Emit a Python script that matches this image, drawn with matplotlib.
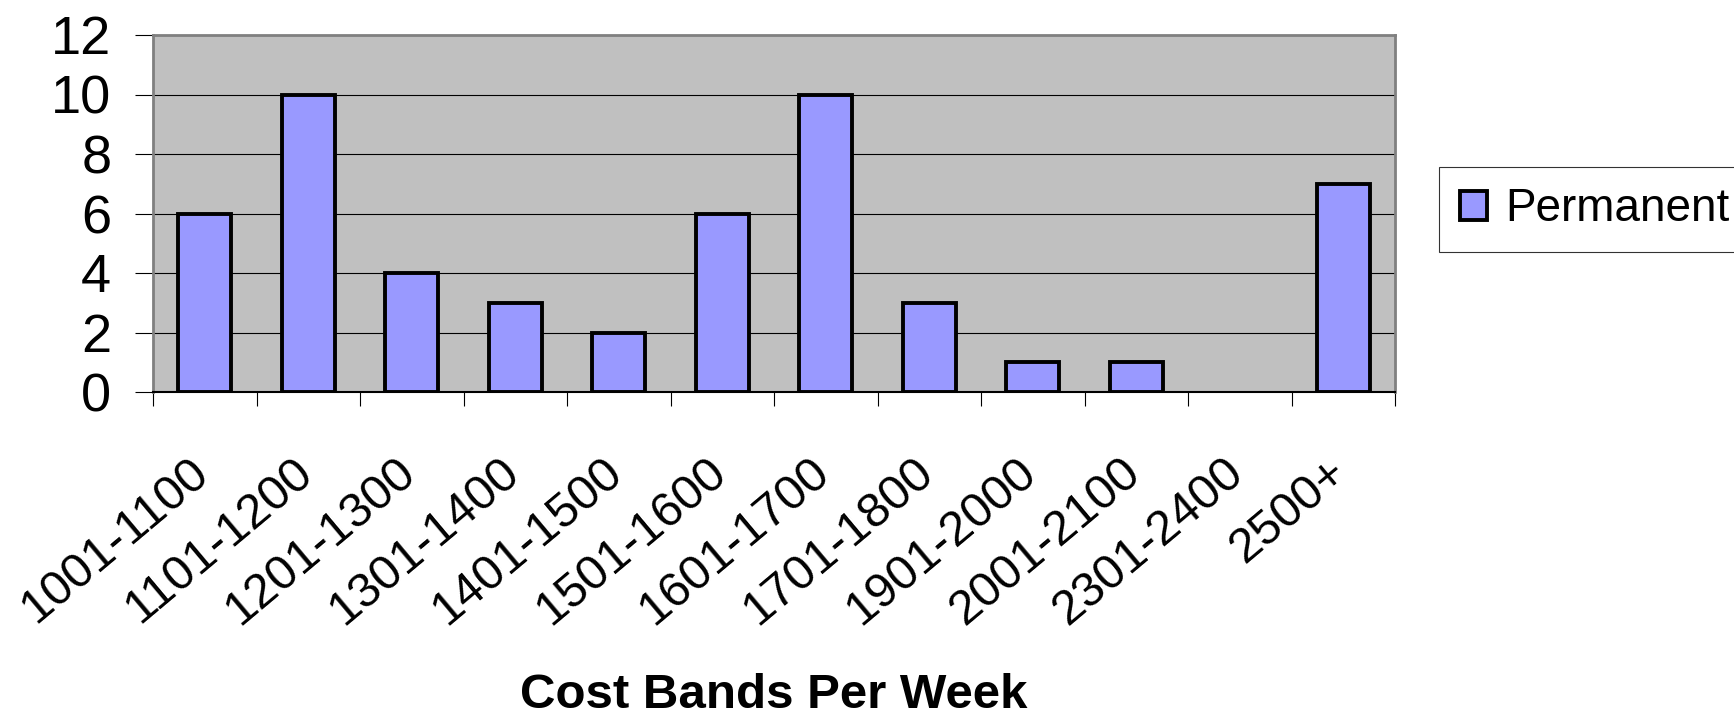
import numpy as np
import matplotlib
matplotlib.use('Agg')
from matplotlib import pyplot as plt
from matplotlib.transforms import ScaledTranslation

plt.rcParams['font.family'] = ['Liberation Sans', 'DejaVu Sans']

# cost bands and number of permanent placements in each
bands = ['1001-1100', '1101-1200', '1201-1300', '1301-1400', '1401-1500',
         '1501-1600', '1601-1700', '1701-1800', '1901-2000', '2001-2100',
         '2301-2400', '2500+']
permanent = [6, 10, 4, 3, 2, 6, 10, 3, 1, 1, 0, 7]
yticks = [0, 2, 4, 6, 8, 10, 12]

fig = plt.figure(figsize=(17.34, 7.15), dpi=100)
ax = fig.add_axes([153/1734, 1 - 392/715, (1395 - 153)/1734, (392 - 35)/715])
ax.set_facecolor('#C0C0C0')

x = np.arange(len(bands))
lw = [2.8 if v else 0 for v in permanent]
ax.bar(x, permanent, width=0.51, color='#9999FF', edgecolor='black',
       linewidth=lw, label='Permanent', zorder=3)

ax.set_xlim(-0.5, len(bands) - 0.5)
ax.set_ylim(0, 12)

# grid lines
ax.set_yticks(yticks)
ax.yaxis.grid(True, color='black', linewidth=0.8, zorder=1)
ax.set_axisbelow(True)

# y axis
ax.tick_params(axis='y', direction='out', length=13, width=0.8,
               pad=17, labelsize=39, colors='black')

# x axis: tick marks between categories, labels under centres
ax.set_xticks(x)
ax.set_xticks(np.arange(len(bands) + 1) - 0.5, minor=True)
ax.set_xticklabels(bands)
ax.tick_params(axis='x', which='major', length=0, pad=54, labelsize=35)
ax.tick_params(axis='x', which='minor', direction='out', length=10,
               width=0.8, color='black')
off = ScaledTranslation(-2/100, 0, fig.dpi_scale_trans)
for lab in ax.get_xticklabels():
    lab.set_rotation(40)
    lab.set_ha('right')
    lab.set_va('center')
    lab.set_rotation_mode('anchor')
    lab.set_transform(lab.get_transform() + off)

for side in ['left', 'top', 'right']:
    ax.spines[side].set_color('#808080')
    ax.spines[side].set_linewidth(2)
ax.spines['bottom'].set_color('black')
ax.spines['bottom'].set_linewidth(1.5)

fig.text(774/1734, 1 - 708/715, 'Cost Bands Per Week', ha='center',
         va='baseline', fontsize=35.5, fontweight='bold')

leg = fig.legend(loc='center left', bbox_to_anchor=(1439/1734, 1 - 209.5/715),
                 fontsize=33, frameon=True, fancybox=False, borderpad=0.45,
                 handlelength=0.6, handleheight=0.6, handletextpad=0.4,
                 borderaxespad=0)
leg.get_frame().set_edgecolor('black')
leg.get_frame().set_linewidth(0.8)
leg.legend_handles[0].set_linewidth(2.8)

fig.savefig('out.png', dpi=100)
